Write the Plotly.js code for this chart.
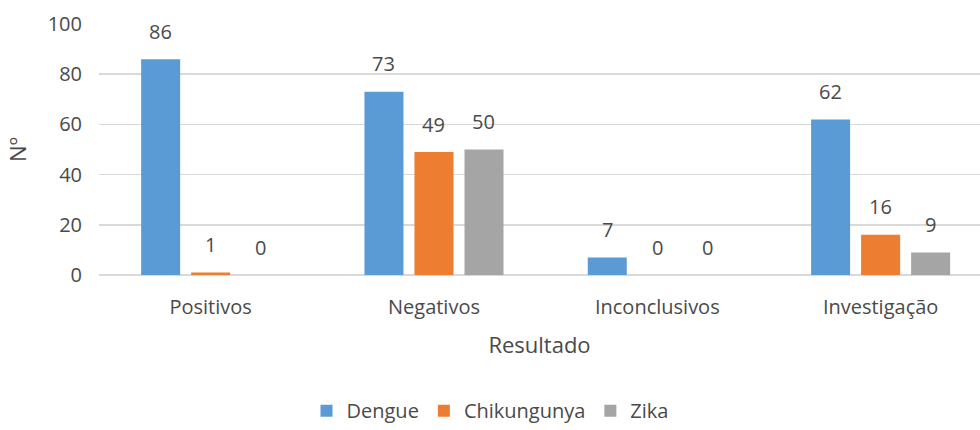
<!DOCTYPE html>
<html>
<head>
<meta charset="utf-8">
<script src="https://cdn.plot.ly/plotly-3.0.1.min.js"></script>
<style>html,body{margin:0;padding:0;background:#fff;}#chart{width:980px;height:430px;}</style>
</head>
<body>
<div id="chart"></div>
<script>
const categories = ["Positivos", "Negativos", "Inconclusivos", "Investigação"];
const seriesNames = ["Dengue", "Chikungunya", "Zika"];
const dengue = [86, 73, 7, 62];
const chikungunya = [1, 49, 0, 16];
const zika = [0, 50, 0, 9];
const yTicks = [0, 20, 40, 60, 80, 100];
const colors = ["#5B9BD5", "#ED7D31", "#A5A5A5"];

const seriesValues = [dengue, chikungunya, zika];
const FONT = "Open Sans, Liberation Sans, sans-serif";
const TXT = "#4a4a4a";

const traces = seriesValues.map((vals, i) => ({
  type: "bar",
  name: seriesNames[i],
  x: categories,
  y: vals,
  marker: {color: colors[i]},
  hoverinfo: "x+y+name"
}));

const offsets = [-50, 0, 50];
const annotations = [];
seriesValues.forEach((vals, i) => {
  vals.forEach((v, j) => {
    annotations.push({
      x: categories[j], y: v, xref: "x", yref: "y",
      text: String(v), showarrow: false,
      xshift: offsets[i], yshift: 28,
      xanchor: "center", yanchor: "middle",
      font: {family: FONT, size: 20, color: TXT}
    });
  });
});

const layout = {
  width: 980, height: 430,
  margin: {l: 99, r: 0, t: 24, b: 155, pad: 0},
  paper_bgcolor: "#fff", plot_bgcolor: "#fff",
  barmode: "group",
  bargap: 0.328,
  bargroupgap: 0.22,
  showlegend: true,
  legend: {
    orientation: "h", xref: "container", yref: "container",
    x: 0.5, xanchor: "center", y: 0.045, yanchor: "middle",
    font: {family: FONT, size: 20, color: TXT}, traceorder: "normal",
    itemwidth: 30, tracegroupgap: 0
  },
  xaxis: {
    type: "category",
    range: [-0.5, 3.445],
    showgrid: false, zeroline: false,
    showline: false,
    ticks: "",
    ticklabelstandoff: 18,
    tickfont: {family: FONT, size: 20, color: TXT},
    title: {text: "Resultado", font: {family: FONT, size: 22, color: TXT}, standoff: 18},
    automargin: false,
    fixedrange: true
  },
  yaxis: {
    range: [0, 100],
    tickvals: yTicks,
    ticktext: yTicks.map(String),
    showgrid: true, gridcolor: "#D9D9D9", gridwidth: 1.5,
    zeroline: true, zerolinecolor: "#D9D9D9", zerolinewidth: 1.5,
    showline: false, ticks: "",
    ticklabelstandoff: 16,
    tickfont: {family: FONT, size: 20, color: TXT},
    title: {text: "Nº", font: {family: FONT, size: 22, color: TXT}, standoff: 14},
    automargin: false,
    fixedrange: true
  },
  annotations: annotations
};

Plotly.newPlot("chart", traces, layout, {displayModeBar: false, staticPlot: true});
</script>
</body>
</html>
